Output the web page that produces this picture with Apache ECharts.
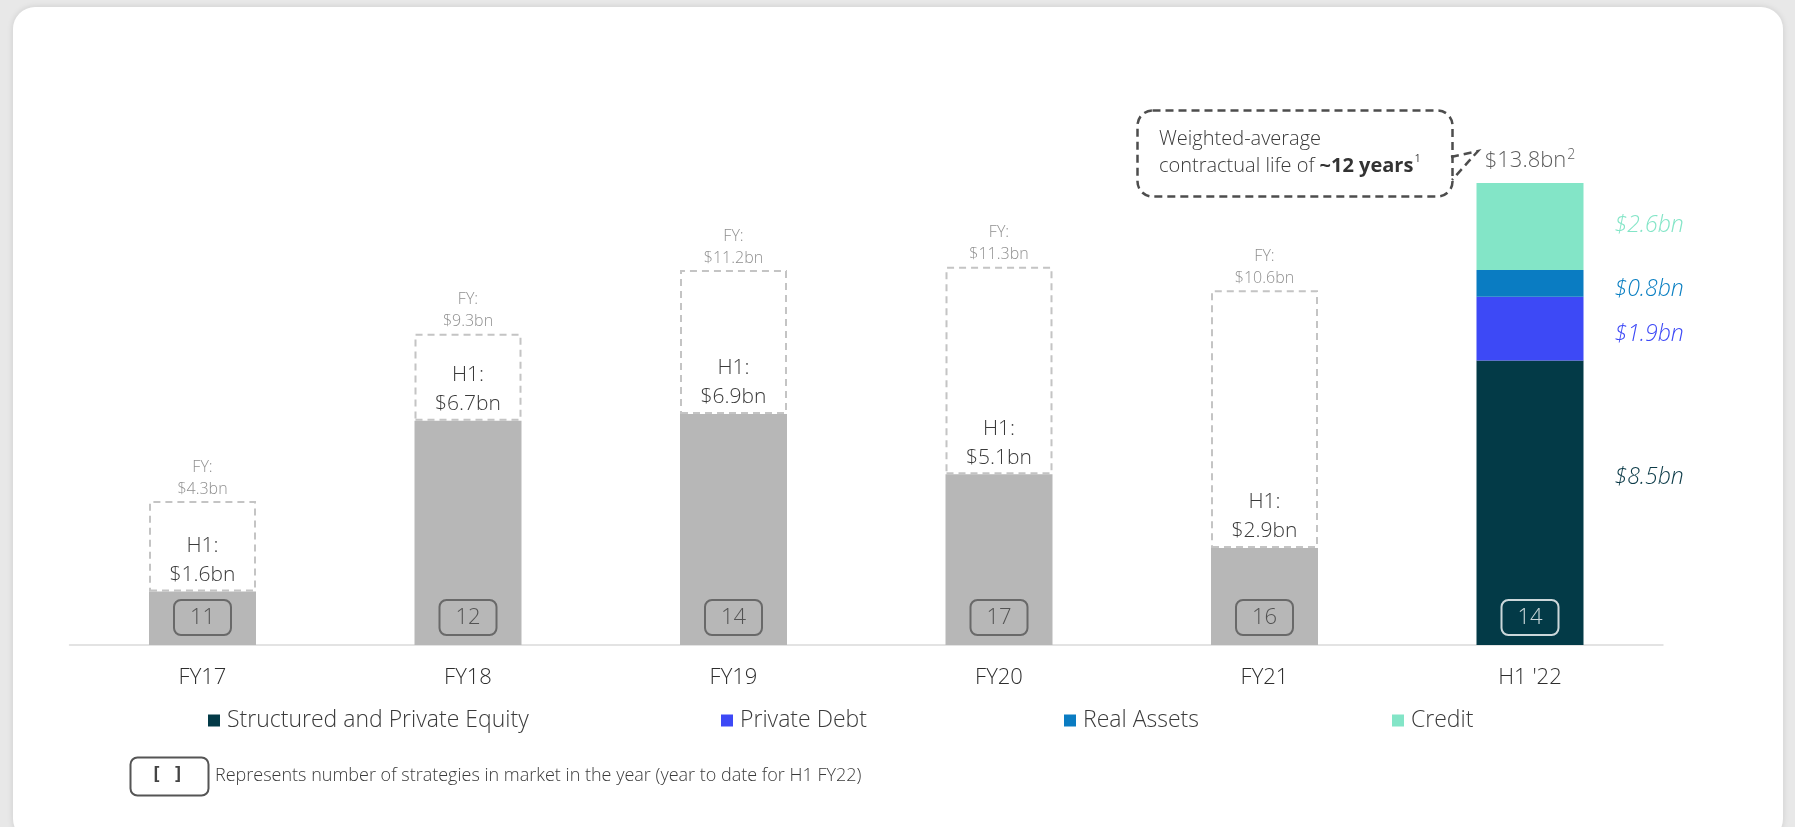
<!DOCTYPE html>
<html>
<head>
<meta charset="utf-8">
<script src="https://cdn.jsdelivr.net/npm/echarts@6/dist/echarts.min.js"></script>
<style>
  html, body { margin: 0; padding: 0; background: #e8e8e8; width: 1795px; height: 827px; overflow: hidden; }
  #card { position: absolute; left: 13px; top: 7px; width: 1770px; height: 834px; background: #fff; border-radius: 22px; box-shadow: 0 0 6px rgba(0,0,0,0.12); }
  #chart { position: absolute; left: 0; top: 0; width: 1795px; height: 827px; }
</style>
</head>
<body>
<div id="card"></div>
<div id="chart"></div>
<script>
const categories = ['FY17', 'FY18', 'FY19', 'FY20', 'FY21', "H1 '22"];
const fyTotals = [4.3, 9.3, 11.2, 11.3, 10.6, null];
const h1Values = [1.6, 6.7, 6.9, 5.1, 2.9, null];
const strategyCounts = [11, 12, 14, 17, 16, 14];
const segmentNames = ['Structured and Private Equity', 'Private Debt', 'Real Assets', 'Credit'];
const structuredPE = [null, null, null, null, null, 8.5];
const privateDebt = [null, null, null, null, null, 1.9];
const realAssets = [null, null, null, null, null, 0.8];
const credit = [null, null, null, null, null, 2.6];
const h1TotalLabel = [null, null, null, null, null, 13.8];

const FONT = 'Open Sans';
const FW = 300;
const segColors = ['#033a47', '#3d49f6', '#0a7cc2', '#83e5c7'];
const segLabelColors = ['#0b3a47', '#3d49f6', '#0a7fc2', '#83e5c7'];
const segData = [structuredPE, privateDebt, realAssets, credit];
const segLabelOffsets = [[0, -25], [0, 6], [0, 6], [0, -1]];

const remaining = fyTotals.map((v, i) => (v == null ? null : +(v - h1Values[i]).toFixed(1)));

const chart = echarts.init(document.getElementById('chart'), null, { renderer: 'canvas' });

const series = [];
series.push({
  name: 'H1', type: 'bar', stack: 'a', barWidth: 107, data: h1Values,
  itemStyle: { color: '#b7b7b7' },
  label: {
    show: true, position: 'top', distance: 2, fontFamily: FONT, fontWeight: FW, fontSize: 21, lineHeight: 29, color: '#3a3a3a',
    formatter: p => 'H1:\n$' + h1Values[p.dataIndex].toFixed(1) + 'bn'
  },
  z: 3
});
series.push({
  name: 'FY', type: 'bar', stack: 'a', data: remaining,
  itemStyle: { color: 'rgba(255,255,255,0)', borderColor: '#c4c4c4', borderWidth: 2, borderType: [7, 5] },
  label: {
    show: true, position: 'top', distance: 1, fontFamily: FONT, fontWeight: FW, fontSize: 16, lineHeight: 22, color: '#8f8f8f',
    formatter: p => 'FY:\n$' + fyTotals[p.dataIndex].toFixed(1) + 'bn'
  },
  z: 2
});
segmentNames.forEach((name, k) => {
  series.push({
    name: name, type: 'bar', stack: 'a', data: segData[k],
    itemStyle: { color: segColors[k] },
    label: {
      show: true, position: 'right', distance: 31, offset: segLabelOffsets[k],
      fontFamily: FONT, fontWeight: FW, fontSize: 23, fontStyle: 'italic', color: segLabelColors[k],
      formatter: p => '$' + segData[k][p.dataIndex].toFixed(1) + 'bn'
    },
    z: 3
  });
});
series.push({
  name: 'total', type: 'scatter', data: h1TotalLabel, symbolSize: 1,
  itemStyle: { color: 'rgba(0,0,0,0)' },
  label: {
    show: true, position: 'top', distance: 10, fontFamily: FONT, fontWeight: FW, fontSize: 22, color: '#333',
    formatter: p => '$' + h1TotalLabel[p.dataIndex].toFixed(1) + 'bn{s|2}',
    rich: { s: { fontFamily: FONT, fontWeight: FW, fontSize: 14, color: '#333', verticalAlign: 'top', padding: [0, 0, 10, 1] } }
  },
  z: 5
});
series.push({
  name: 'count', type: 'scatter', symbolSize: 1,
  itemStyle: { color: 'rgba(0,0,0,0)' },
  data: strategyCounts.map((c, i) => ({
    value: [i, 0],
    label: i === strategyCounts.length - 1 ? { color: '#fff', borderColor: '#fff' } : {}
  })),
  label: {
    show: true, position: 'inside', offset: [0, -27.5],
    width: 57, height: 35, lineHeight: 35, padding: 0, align: 'center', verticalAlign: 'middle',
    borderColor: '#555', borderWidth: 2, borderRadius: 7,
    fontFamily: FONT, fontWeight: FW, fontSize: 22, color: '#3a3a3a',
    formatter: p => String(strategyCounts[p.dataIndex])
  },
  z: 6
});

const legendLefts = [208, 721, 1064, 1392];
const legends = segmentNames.map((n, k) => ({
  data: [n], left: legendLefts[k], top: 709, padding: 0,
  itemWidth: 12, itemHeight: 12, icon: 'rect',
  textStyle: { fontFamily: FONT, fontWeight: FW, fontSize: 23, color: '#3a3a3a', padding: [0, 0, 0, 2] },
  selectedMode: false
}));

chart.setOption({
  animation: false,
  textStyle: { fontFamily: FONT },
  grid: { left: 69.75, right: 132.25, top: 109.35, bottom: 182, containLabel: false },
  xAxis: {
    type: 'category', data: categories,
    axisLine: { show: true, lineStyle: { color: '#e3e3e3', width: 2 } },
    axisTick: { show: false },
    axisLabel: { fontFamily: FONT, fontWeight: FW, fontSize: 22, color: '#2e2e2e', margin: 22 }
  },
  yAxis: { type: 'value', min: 0, max: 16, show: false, splitLine: { show: false } },
  legend: legends,
  series: series,
  graphic: [
    {
      type: 'rect', left: 1135, top: 108,
      shape: { width: 315, height: 86, r: 15 },
      style: { fill: 'none', stroke: '#4d4d4d', lineWidth: 2.5, lineDash: [8, 5] }
    },
    {
      type: 'polyline',
      shape: { points: [[1451, 157], [1478, 151], [1452, 180]] },
      style: { fill: 'none', stroke: '#4d4d4d', lineWidth: 2.5, lineDash: [8, 5] }
    },
    {
      type: 'text', left: 1159, top: 126,
      style: {
        text: 'Weighted-average\ncontractual life of {b|~12 years}{s|1}',
        font: '300 20px "Open Sans"', fill: '#3a3a3a', lineHeight: 27,
        rich: {
          b: { fontFamily: FONT, fontSize: 20, fontWeight: 'bold', fill: '#333', lineHeight: 27 },
          s: { fontFamily: FONT, fontSize: 11, fill: '#444', verticalAlign: 'top', padding: [0, 0, 8, 1] }
        }
      }
    },
    {
      type: 'rect', left: 128, top: 755,
      shape: { width: 78, height: 38, r: 7 },
      style: { fill: 'none', stroke: '#555', lineWidth: 2 }
    },
    {
      type: 'text', left: 151, top: 766,
      style: { text: '[ ]', font: 'bold 18px "DejaVu Sans Mono"', fill: '#444' }
    },
    {
      type: 'text', left: 215, top: 767,
      style: { text: 'Represents number of strategies in market in the year (year to date for H1 FY22)', font: '300 18px "Open Sans"', fill: '#3a3a3a' }
    }
  ]
});
</script>
</body>
</html>
